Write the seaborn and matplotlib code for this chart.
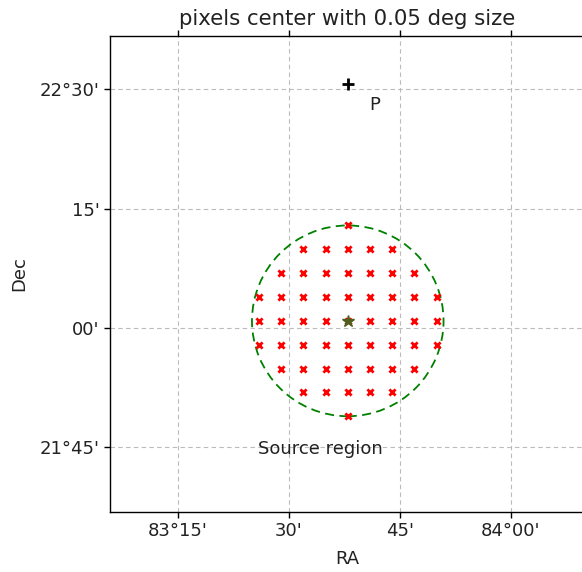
import numpy as np
import pandas as pd
import matplotlib
matplotlib.use("Agg")
import matplotlib.pyplot as plt
import seaborn as sns
from matplotlib.patches import Ellipse
from matplotlib.ticker import FixedLocator, FixedFormatter

# ---------------- data ----------------
src_ra, src_dec = 83.633, 22.0145          # source (region centre)
src_radius = 0.2                            # deg
p_ra, p_dec = 83.633, 22.512                # point P

# pixel centres (0.05 deg) inside the source region, row by row
row_dec = [22.2145, 22.1645, 22.1145, 22.0645, 22.0145, 21.9645, 21.9145, 21.8645, 21.8145]
row_ra = [
    [83.633],
    [83.533, 83.583, 83.633, 83.683, 83.733],
    [83.483, 83.533, 83.583, 83.633, 83.683, 83.733, 83.783],
    [83.433, 83.483, 83.533, 83.583, 83.633, 83.683, 83.733, 83.783, 83.833],
    [83.433, 83.483, 83.533, 83.583, 83.633, 83.683, 83.733, 83.783, 83.833],
    [83.433, 83.483, 83.533, 83.583, 83.633, 83.683, 83.733, 83.783, 83.833],
    [83.483, 83.533, 83.583, 83.633, 83.683, 83.733, 83.783],
    [83.533, 83.583, 83.633, 83.683, 83.733],
    [83.633],
]

ra_ticks = [83.25, 83.5, 83.75, 84.0]
ra_labels = ["83°15'", "30'", "45'", "84°00'"]
dec_ticks = [22.5, 22.25, 22.0, 21.75]
dec_labels = ["22°30'", "15'", "00'", "21°45'"]

title = "pixels center with 0.05 deg size"

pix = pd.DataFrame(
    [(ra, d) for d, ras in zip(row_dec, row_ra) for ra in ras],
    columns=["RA", "Dec"],
)

# ---------------- plot ----------------
sns.set_style("white")
plt.rcParams["font.family"] = ["DejaVu Sans"]

W, H = 582, 572
fig = plt.figure(figsize=(W / 100, H / 100), dpi=100)
ax = fig.add_axes([110 / W, 60 / H, 475 / W, 476 / H])

ax.set_xlim(83.0975, 84.1673)
ax.set_ylim(21.6137, 22.6117)

ax.grid(True, color="#bbbbbb", linestyle=(0, (4, 3)), linewidth=0.8)
ax.set_axisbelow(True)

sns.scatterplot(data=pix, x="RA", y="Dec", marker="x", color="red",
                s=20, linewidth=2.0, ax=ax, legend=False, zorder=3)

ax.plot([src_ra], [src_dec], marker="*", color="#4f5e1f", markersize=9,
        linestyle="none", zorder=4)
ax.plot([p_ra], [p_dec], marker="+", color="black", markersize=8,
        markeredgewidth=2, linestyle="none", zorder=4)

circ = Ellipse((src_ra, src_dec), width=2 * src_radius / np.cos(np.radians(src_dec)),
               height=2 * src_radius, fill=False, edgecolor="green",
               linestyle=(0, (5, 3)), linewidth=1.3, zorder=2)
ax.add_patch(circ)

ax.text(83.693, 22.467, "P", ha="center", va="center", fontsize=13, color="#222222")
ax.text(83.572, 21.746, "Source region", ha="center", va="center", fontsize=13,
        color="#222222")

ax.xaxis.set_major_locator(FixedLocator(ra_ticks))
ax.xaxis.set_major_formatter(FixedFormatter(ra_labels))
ax.yaxis.set_major_locator(FixedLocator(dec_ticks))
ax.yaxis.set_major_formatter(FixedFormatter(dec_labels))
ax.tick_params(axis="both", which="major", direction="out", length=4, width=1,
               labelsize=13, colors="black", labelcolor="#222222",
               top=True, right=True, bottom=True, left=True)

for s in ax.spines.values():
    s.set_color("black")
    s.set_linewidth(1.0)

ax.set_xlabel("RA", fontsize=13, labelpad=7, color="#222222")
ax.set_ylabel("Dec", fontsize=13, labelpad=8, color="#222222")
ax.set_title(title, fontsize=15.3, pad=8, color="#222222")

fig.savefig("out.png", dpi=100)
